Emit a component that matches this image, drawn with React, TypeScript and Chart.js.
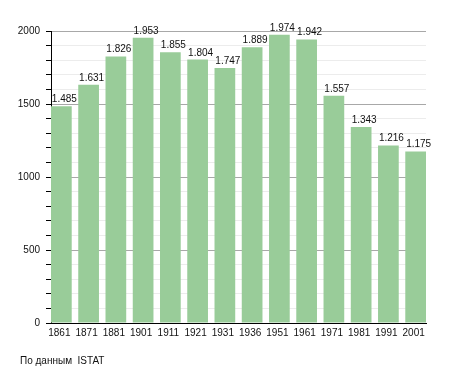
import React, { useEffect, useRef } from "react";
import { Chart, registerables } from "chart.js";

Chart.register(...registerables);

const years = ["1861", "1871", "1881", "1901", "1911", "1921", "1931", "1936", "1951", "1961", "1971", "1981", "1991", "2001"];
const population = [1485, 1631, 1826, 1953, 1855, 1804, 1747, 1889, 1974, 1942, 1557, 1343, 1216, 1175];
const yMax = 2000;
const yStep = 100;
const yLabelStep = 500;
const sourceNote = "По данным  ISTAT";

const FONT = "'Liberation Sans', Arial, sans-serif";

const fmt = (v: number) => {
  const s = String(v);
  return s.length > 3 ? s.slice(0, s.length - 3) + "." + s.slice(s.length - 3) : s;
};

const valueLabels = {
  id: "valueLabels",
  afterDatasetsDraw(chart: any) {
    const ctx = chart.ctx;
    const meta = chart.getDatasetMeta(0);
    ctx.save();
    ctx.font = `10px ${FONT}`;
    ctx.fillStyle = "#111";
    ctx.textAlign = "center";
    ctx.textBaseline = "alphabetic";
    meta.data.forEach((bar: any, i: number) => {
      ctx.fillText(fmt(population[i]), bar.x + 3, bar.y - 4);
    });
    ctx.restore();
  },
};

export default function App() {
  const ref = useRef<HTMLCanvasElement | null>(null);
  useEffect(() => {
    if (!ref.current) return;
    const chart = new Chart(ref.current, {
      type: "bar",
      data: {
        datasets: [
          {
            data: population.map((v, i) => ({ x: i, y: v })),
            backgroundColor: "#99cc99",
            borderWidth: 0,
            barPercentage: 0.76,
            categoryPercentage: 1,
          },
        ],
      },
      options: {
        responsive: false,
        animation: false,
        devicePixelRatio: 1,
        layout: { padding: { left: 0, top: 31, right: 29, bottom: 30 } },
        plugins: { legend: { display: false }, tooltip: { enabled: false }, title: { display: false } },
        scales: {
          x: {
            type: "linear",
            offset: false,
            min: -0.38,
            max: years.length - 1 + 0.38,
            afterFit: (s: any) => {
              s.height = 20;
            },
            grid: { display: false, offset: false, drawTicks: false },
            border: { display: true, color: "#000", width: 1 },
            ticks: {
              stepSize: 1,
              includeBounds: false,
              autoSkip: false,
              maxRotation: 0,
              padding: 4,
              labelOffset: -2,
              color: "#111",
              font: { family: FONT, size: 10 },
              callback: (v: any) => (Number.isInteger(v) && years[v] ? years[v] : ""),
            },
          },
          y: {
            min: 0,
            max: yMax,
            afterFit: (s: any) => {
              s.width = 51;
            },
            grid: {
              color: (c: any) => (c.tick && c.tick.value % yLabelStep === 0 ? "#a8a8a8" : "#ececec"),
              tickColor: "#000",
              tickLength: 5,
              drawTicks: true,
            },
            border: { display: true, color: "#000", width: 1 },
            ticks: {
              stepSize: yStep,
              autoSkip: false,
              padding: 6,
              color: "#111",
              font: { family: FONT, size: 10 },
              callback: (v: any) => (v % yLabelStep === 0 ? String(v) : ""),
            },
          },
        },
      },
      plugins: [valueLabels],
    });
    return () => chart.destroy();
  }, []);
  return (
    <div style={{ position: "absolute", left: 0, top: 0, width: 455, height: 373, background: "#fff" }}>
      <canvas ref={ref} width={455} height={373} style={{ display: "block" }} />
      <div
        style={{
          position: "absolute",
          left: 20,
          top: 355,
          font: `10px ${FONT}`,
          color: "#111",
          whiteSpace: "pre",
        }}
      >
        {sourceNote}
      </div>
    </div>
  );
}
